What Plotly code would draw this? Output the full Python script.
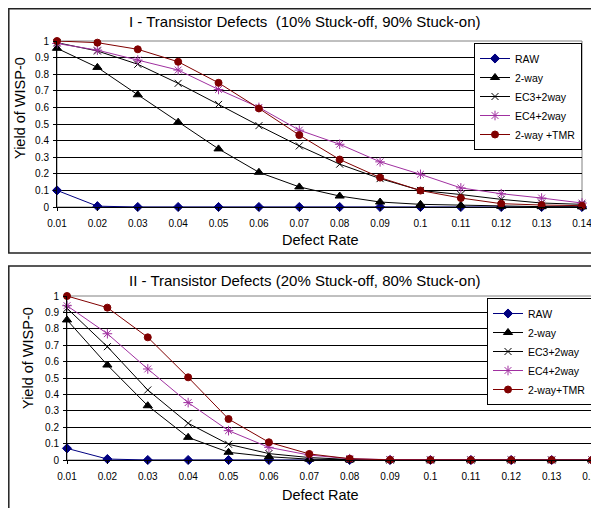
import plotly.graph_objects as go

W, H = 599, 508
OFF = 8  # page body margin of the browser

defect_rate = [0.01, 0.02, 0.03, 0.04, 0.05, 0.06, 0.07, 0.08, 0.09, 0.10, 0.11, 0.12, 0.13, 0.14]
x_tick_labels = ["0.01", "0.02", "0.03", "0.04", "0.05", "0.06", "0.07", "0.08", "0.09", "0.1",
                 "0.11", "0.12", "0.13", "0.14"]
y_tick_vals = [0, 0.1, 0.2, 0.3, 0.4, 0.5, 0.6, 0.7, 0.8, 0.9, 1.0]
y_tick_labels = ["0", "0.1", "0.2", "0.3", "0.4", "0.5", "0.6", "0.7", "0.8", "0.9", "1"]

# Chart I : 10% stuck-off, 90% stuck-on
raw_1 = [0.10, 0.005, 0.0, 0.0, 0.0, 0.0, 0.0, 0.0, 0.0, 0.0, 0.0, 0.0, 0.0, 0.0]
twoway_1 = [0.956, 0.841, 0.676, 0.511, 0.350, 0.209, 0.121, 0.066, 0.030, 0.016, 0.010, 0.004, 0.002, 0.001]
ec3_1 = [0.99, 0.94, 0.86, 0.745, 0.618, 0.49, 0.368, 0.258, 0.171, 0.100, 0.075, 0.046, 0.024, 0.016]
ec4_1 = [0.985, 0.945, 0.885, 0.825, 0.708, 0.600, 0.463, 0.378, 0.272, 0.197, 0.115, 0.080, 0.054, 0.024]
tmr_1 = [1.0, 0.99, 0.95, 0.875, 0.748, 0.594, 0.433, 0.286, 0.177, 0.099, 0.054, 0.020, 0.012, 0.008]

# Chart II : 20% stuck-off, 80% stuck-on
raw_2 = [0.071, 0.006, 0.0, 0.0, 0.0, 0.0, 0.0, 0.0, 0.0, 0.0, 0.0, 0.0, 0.0, 0.0]
twoway_2 = [0.854, 0.579, 0.331, 0.138, 0.047, 0.020, 0.005, 0.001, 0.0, 0.0, 0.0, 0.0, 0.0, 0.0]
ec3_2 = [0.925, 0.691, 0.427, 0.224, 0.096, 0.039, 0.015, 0.003, 0.0, 0.0, 0.0, 0.0, 0.0, 0.0]
ec4_2 = [0.941, 0.770, 0.555, 0.350, 0.179, 0.077, 0.030, 0.008, 0.002, 0.0, 0.0, 0.0, 0.0, 0.0]
tmr_2 = [1.0, 0.929, 0.748, 0.504, 0.250, 0.108, 0.037, 0.008, 0.001, 0.0, 0.0, 0.0, 0.0, 0.0]

series_names_1 = ["RAW", "2-way", "EC3+2way", "EC4+2way", "2-way +TMR"]
series_names_2 = ["RAW", "2-way", "EC3+2way", "EC4+2way", "2-way+TMR"]
colors = ["#000080", "#000000", "#000000", "#A030A0", "#800000"]
symbols = ["diamond", "triangle-up", "x-thin-open", "asterisk-open", "circle"]
msizes = [7, 8, 7, 8, 7]

FONT = "Liberation Sans, Arial, sans-serif"

fig = go.Figure()

def add_series(vals_list, names, xa, ya, legend):
    for v, n, c, s, ms in zip(vals_list, names, colors, symbols, msizes):
        fig.add_trace(go.Scatter(
            x=defect_rate, y=v, name=n, mode="lines+markers",
            line=dict(color=c, width=1),
            marker=dict(symbol=s, size=ms, color=c, line=dict(color=c, width=1)),
            xaxis=xa, yaxis=ya, legend=legend, cliponaxis=False,
        ))

add_series([raw_1, twoway_1, ec3_1, ec4_1, tmr_1], series_names_1, "x", "y", "legend")
add_series([raw_2, twoway_2, ec3_2, ec4_2, tmr_2], series_names_2, "x2", "y2", "legend2")

def px_x(p):
    return (p - OFF) / W

def px_y(p):
    return 1 - (p - OFF) / H

xaxis_common = dict(
    range=[0.01, 0.14], tickvals=defect_rate, ticktext=x_tick_labels, automargin=False,
    showgrid=False, zeroline=False, showline=True, linecolor="#000000", linewidth=1,
    ticks="outside", ticklen=3, tickcolor="#000000", tickfont=dict(family=FONT, size=10, color="#000000"),
    ticklabelstandoff=4, fixedrange=True,
)
yaxis_common = dict(
    range=[0, 1], tickvals=y_tick_vals, ticktext=y_tick_labels, automargin=False,
    showgrid=True, gridcolor="#000000", gridwidth=1, zeroline=False,
    showline=True, linecolor="#000000", linewidth=1,
    ticks="outside", ticklen=3, tickcolor="#000000", tickfont=dict(family=FONT, size=10, color="#000000"),
    ticklabelstandoff=2, fixedrange=True,
)

fig.update_layout(
    width=W, height=H, margin=dict(l=0, r=0, t=0, b=0, autoexpand=False),
    paper_bgcolor="white", plot_bgcolor="white",
    font=dict(family=FONT, color="#000000"),
    xaxis=dict(domain=[px_x(57), px_x(582)], anchor="y", **xaxis_common),
    yaxis=dict(domain=[px_y(207), px_y(41)], anchor="x", **yaxis_common),
    xaxis2=dict(domain=[px_x(67), px_x(592)], anchor="y2", **xaxis_common),
    yaxis2=dict(domain=[px_y(460), px_y(296)], anchor="x2", **yaxis_common),
    legend=dict(x=px_x(582), y=px_y(43), xanchor="right", yanchor="top",
                bordercolor="#000000", borderwidth=1, bgcolor="white",
                font=dict(family=FONT, size=10.5, color="#000000"), tracegroupgap=0),
    legend2=dict(x=px_x(592), y=px_y(298), xanchor="right", yanchor="top",
                 bordercolor="#000000", borderwidth=1, bgcolor="white",
                 font=dict(family=FONT, size=10.5, color="#000000"), tracegroupgap=0),
    showlegend=True,
)

shapes = [
    # chart frames
    dict(type="rect", xref="paper", yref="paper", x0=px_x(8.8), x1=px_x(620), y0=px_y(253), y1=px_y(8.8),
         line=dict(color="#222222", width=1.5), layer="below"),
    dict(type="rect", xref="paper", yref="paper", x0=px_x(8.8), x1=px_x(620), y0=px_y(530), y1=px_y(266),
         line=dict(color="#222222", width=1.5), layer="below"),
    # plot area borders (grey)
    dict(type="rect", xref="x domain", yref="y domain", x0=0, x1=1, y0=0, y1=1,
         line=dict(color="#808080", width=1), layer="below"),
    dict(type="rect", xref="x2 domain", yref="y2 domain", x0=0, x1=1, y0=0, y1=1,
         line=dict(color="#808080", width=1), layer="below"),
]
fig.update_layout(shapes=shapes)

def label(text, x, y, size, angle=0):
    return dict(text=text, x=px_x(x), y=px_y(y), xref="paper", yref="paper",
                xanchor="center", yanchor="middle", showarrow=False, textangle=angle,
                font=dict(family=FONT, size=size, color="#000000"))

annotations = [
    label("I - Transistor Defects&nbsp;&nbsp;(10% Stuck-off, 90% Stuck-on)", 305, 22, 15),
    label("II - Transistor Defects (20% Stuck-off, 80% Stuck-on)", 305, 280, 15),
    label("Yield of WISP-0", 20, 108, 14.5, -90),
    label("Yield of WISP-0", 28, 358, 14.5, -90),
    label("Defect Rate", 320, 240, 14.5),
    label("Defect Rate", 320, 495, 14.5),
]
fig.update_layout(annotations=annotations)

fig.write_html("out.html")
